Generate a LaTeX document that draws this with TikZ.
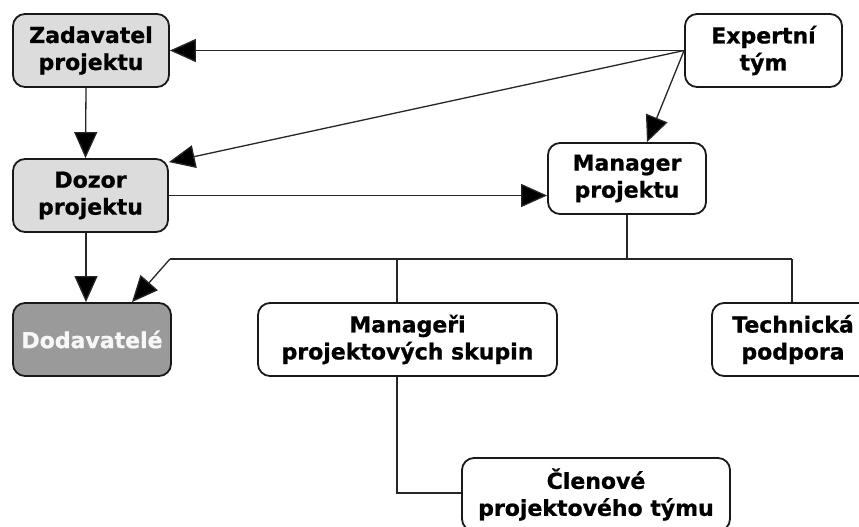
\documentclass[tikz,border=0pt]{standalone}
\usepackage{fontspec}
\setmainfont{DejaVu Sans}
\newfontfamily\boxfont{DejaVu Sans}[BoldFeatures={FakeBold=0.9}]
\usetikzlibrary{arrows.meta,calc}
\definecolor{lightbox}{HTML}{DCDCDC}
\definecolor{darkbox}{HTML}{9A9A9A}
\definecolor{linec}{HTML}{262626}
\tikzset{
  box/.style={draw=black!90, line width=1.8pt, rounded corners=12pt, align=center,
    font=\boxfont\fontsize{22}{27}\selectfont\bfseries, inner sep=0pt, minimum height=73pt},
  conn/.style={draw=linec, line width=1.3pt},
  arr/.style={conn, -{Triangle[length=26pt,width=23pt,fill=black]}}
}
\begin{document}
\begin{tikzpicture}[x=1pt,y=-1pt]
\useasboundingbox (0,0) rectangle (859,527);
\fill[white] (0,0) rectangle (859,527);
% nodes
\node[box, fill=lightbox, minimum width=156pt] (zad) at (91,50.5) {Zadavatel\\projektu};
\node[box, fill=lightbox, minimum width=155pt] (doz) at (90.5,195.5) {Dozor\\projektu};
\node[box, fill=white, minimum width=157pt] (exp) at (763.5,50.5) {Expertní\\tým};
\node[box, fill=white, minimum width=158pt, minimum height=71pt] (mgr) at (627,178.5) {Manager\\projektu};
\node[box, fill=darkbox, text=white!97!black, minimum width=158pt] (dod) at (92,339.5) {Dodavatelé};
\node[box, fill=white, minimum width=299pt] (msk) at (407.5,339.5) {Manageři\\projektových skupin};
\node[box, fill=white, minimum width=162pt] (tech) at (793,339.5) {Technická\\podpora};
\node[box, fill=white, minimum width=268pt] (cl) at (596,494.5) {Členové\\projektového týmu};
% coordinates
\coordinate (busL) at (170,259);
\coordinate (busM) at (627,259);
\coordinate (busS) at (397,259);
\coordinate (busR) at (792,259);
\coordinate (elbow) at (397,493);
% connectors from expert team
\draw[arr] (exp.west) -- (zad.east);
\draw[arr] (exp.west) -- ($(doz.north east)+(0,4)$);
\draw[arr] (exp.west) -- ($(mgr.north)+(20,0)$);
% left column
\draw[arr] ($(zad.south)+(-5,0)$) -- ($(doz.north)+(-5,0)$);
\draw[arr] ($(doz.south)+(-4.5,0)$) -- ($(dod.north)+(-6,0)$);
\draw[arr] (doz.east) -- (doz.east -| mgr.west);
% manager tree
\draw[conn] (mgr.south) -- (busM);
\draw[conn] (busL) -- (busR);
\draw[arr] (busL) -- ($(dod.north)+(40,0)$);
\draw[conn] (busS) -- (busS |- msk.north);
\draw[conn] (busR) -- (busR |- tech.north);
\draw[conn] (elbow |- msk.south) -- (elbow) -- (elbow -| cl.west);
\end{tikzpicture}
\end{document}
